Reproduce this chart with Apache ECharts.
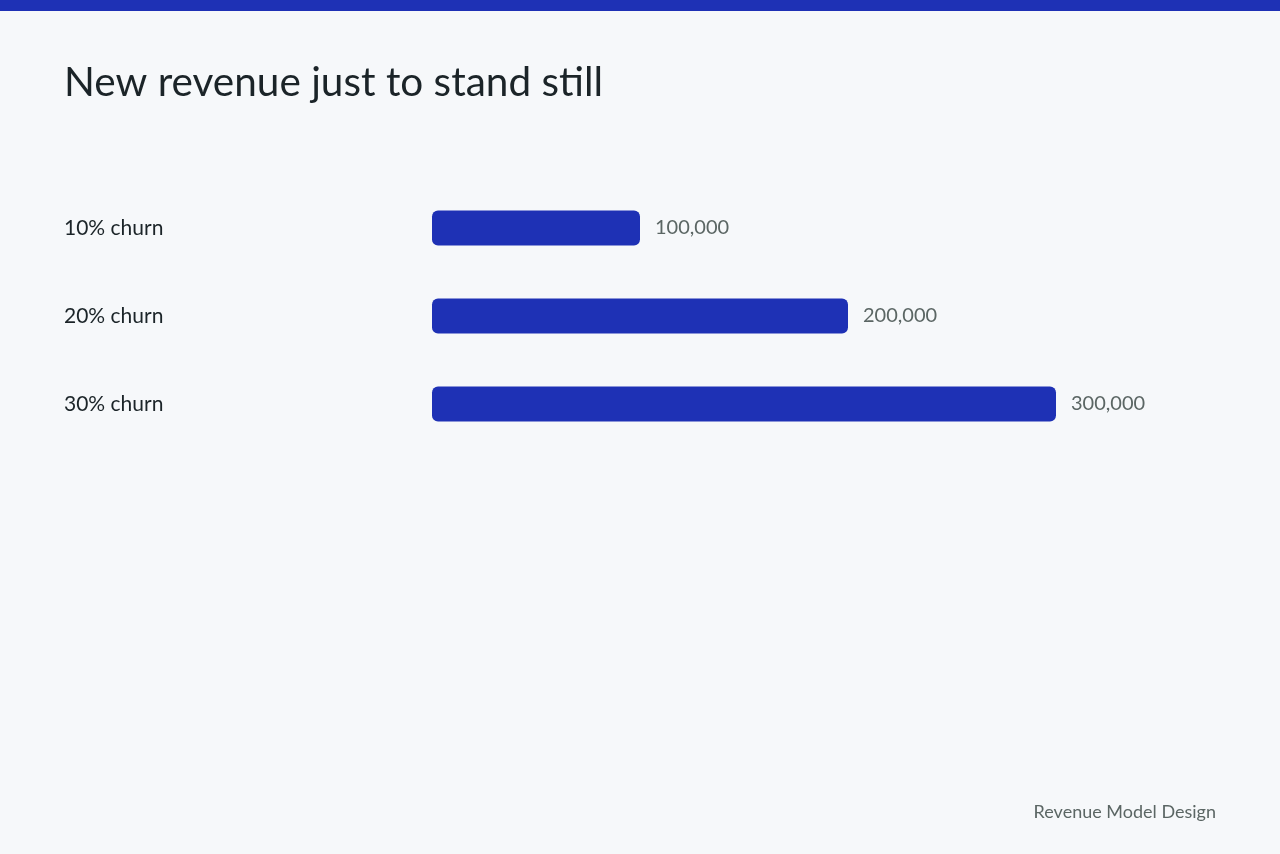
<!DOCTYPE html>
<html>
<head>
<meta charset="utf-8">
<script src="https://cdn.jsdelivr.net/npm/echarts@6/dist/echarts.min.js"></script>
<style>
html,body{margin:0;padding:0;background:#f6f8fa;}
#chart{width:1280px;height:854px;}
</style>
</head>
<body>
<div id="chart"></div>
<script>
var categories = ['10% churn', '20% churn', '30% churn'];
var values = [100000, 200000, 300000];
var titleText = 'New revenue just to stand still';
var footerText = 'Revenue Model Design';

var FONT = 'Lato, "Source Sans Pro", "Noto Sans", sans-serif';
var chart = echarts.init(document.getElementById('chart'), null, {renderer: 'canvas'});
chart.setOption({
  backgroundColor: '#f6f8fa',
  animation: false,
  title: {
    text: titleText,
    left: 59,
    top: 57,
    textStyle: {fontFamily: FONT, fontSize: 40.5, fontWeight: 'normal', color: '#1b2428'}
  },
  graphic: [
    {type: 'rect', left: 0, top: 0, shape: {width: 1280, height: 11}, style: {fill: '#1e31b5'}},
    {type: 'text', right: 64, top: 803, style: {text: footerText, fontFamily: FONT, fontSize: 18, fill: '#5b6664'}}
  ],
  grid: {left: 432, right: 224, top: 184, bottom: 406, containLabel: false},
  xAxis: {
    type: 'value', min: 0, max: 300000,
    show: false
  },
  yAxis: {
    type: 'category',
    data: categories,
    inverse: true,
    axisLine: {show: false},
    axisTick: {show: false},
    axisLabel: {
      align: 'left', margin: 368,
      padding: [7, 0, 0, 0],
      fontFamily: FONT, fontSize: 21, color: '#1b2428'
    }
  },
  series: [{
    type: 'bar',
    data: values,
    barWidth: 35,
    itemStyle: {color: '#1e31b5', borderRadius: 6},
    label: {
      show: true, position: 'right', distance: 15,
      padding: [7, 0, 0, 0],
      fontFamily: FONT, fontSize: 20, color: '#5b6664',
      formatter: function (p) { return p.value.toLocaleString('en-US'); }
    }
  }]
});
</script>
</body>
</html>
